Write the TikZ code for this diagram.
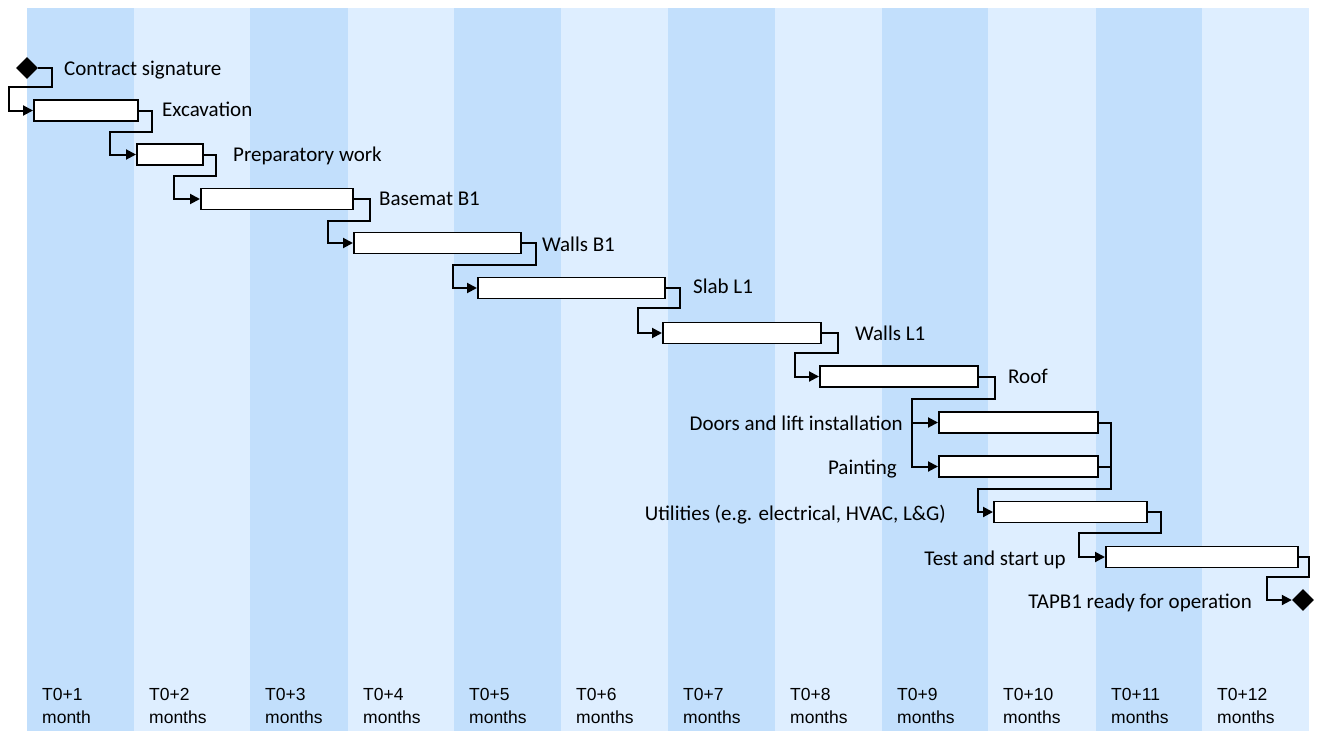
\documentclass[tikz,border=0pt]{standalone}
\usepackage{fontspec}
\setmainfont{Carlito}
\newfontfamily\monthfont{Liberation Sans}
\usetikzlibrary{shapes.geometric,arrows.meta}

\begin{document}
\begin{tikzpicture}[x=1pt,y=-1pt,
  bar/.style={draw=black,line width=1.6pt,fill=white,minimum height=21pt,inner sep=0pt,anchor=west},
  milestone/.style={diamond,fill=black,inner sep=0pt,minimum width=22pt,minimum height=22pt},
  link/.style={line width=2pt,-{Triangle[length=10pt,width=10pt]}},
  joinline/.style={line width=2pt},
  task/.style={inner sep=0pt,text height=13.5pt,text depth=0pt,font=\fontsize{21}{25}\selectfont},
  monthlabel/.style={inner sep=0pt,anchor=base west,font=\monthfont\fontsize{17.5}{21}\selectfont}]
\definecolor{colDark}{RGB}{194,223,252}
\definecolor{colLight}{RGB}{222,238,255}
\useasboundingbox (0,0) rectangle (1320,731);
\foreach \a/\b/\c in {27/134/colDark,134/250/colLight,250/348/colDark,348/454/colLight,454/561/colDark,561/668/colLight,668/775/colDark,775/882/colLight,882/988/colDark,988/1096/colLight,1096/1202/colDark,1202/1309/colLight}
  \fill[\c] (\a,8) rectangle (\b,731);
\foreach \n/\x/\u in {1/42/month,2/149/months,3/265/months,4/363/months,5/469/months,6/576/months,7/683/months,8/790/months,9/897/months,10/1003/months,11/1111/months,12/1217/months} {
  \node[monthlabel] (t\n) at (\x,700) {T0+\n};
  \node[monthlabel] (m\n) at (\x,723) {\u};
}
\node[milestone] (start) at (27,68) {};
\node[bar,minimum width=104pt] (exc) at (33,110.5) {};
\node[bar,minimum width=66pt] (prep) at (136,154.5) {};
\node[bar,minimum width=152pt] (base) at (200,199) {};
\node[bar,minimum width=167pt] (wallsb) at (353,243) {};
\node[bar,minimum width=187pt] (slab) at (477,288) {};
\node[bar,minimum width=158pt] (wallsl) at (662,333) {};
\node[bar,minimum width=158pt] (roof) at (819,376.5) {};
\node[bar,minimum width=159pt] (doors) at (938,422.5) {};
\node[bar,minimum width=159pt] (paint) at (938,466.5) {};
\node[bar,minimum width=153pt] (util) at (993,512) {};
\node[bar,minimum width=192pt] (test) at (1105,557) {};
\node[milestone] (ready) at (1303,600) {};
\node[task,anchor=west] (lstart) at (64,69) {Contract signature};
\node[task,anchor=west] (lexc) at (162,110) {Excavation};
\node[task,anchor=west] (lprep) at (233,155) {Preparatory work};
\node[task,anchor=west] (lbase) at (379,199) {Basemat B1};
\node[task,anchor=west] (lwallsb) at (542,245) {Walls B1};
\node[task,anchor=west] (lslab) at (693,287) {Slab L1};
\node[task,anchor=west] (lwallsl) at (855,334) {Walls L1};
\node[task,anchor=west] (lroof) at (1008,377) {Roof};
\node[task,anchor=east] (ldoors) at (903,424) {Doors and lift installation};
\node[task,anchor=east] (lpaint) at (897,468) {Painting};
\node[task,anchor=east] (lutil) at (946,514) {Utilities (e.g. electrical, HVAC, L\&G)};
\node[task,anchor=east] (ltest) at (1066,559) {Test and start up};
\node[task,anchor=east] (lready) at (1252,602) {TAPB1 ready for operation};
\draw[link] (start.east) -- ++(14,0) |- ++(-43,19) |- (exc.west);
\draw[link] (exc.east) -- ++(13,0) |- ++(-42,21) |- (prep.west);
\draw[link] (prep.east) -- ++(12,0) |- ++(-42,21) |- (base.west);
\draw[link] (base.east) -- ++(16,0) |- ++(-42,22) |- (wallsb.west);
\draw[link] (wallsb.east) -- ++(14,0) |- ++(-83,22) |- (slab.west);
\draw[link] (slab.east) -- ++(14,0) |- ++(-42,20) |- (wallsl.west);
\draw[link] (wallsl.east) -- ++(16,0) |- ++(-43,20) |- (roof.west);
\draw[link] (roof.east) -- ++(16,0) |- ++(-83,22) coordinate (fork) |- (doors.west);
\draw[link] (fork) |- (paint.west);
\draw[joinline] (paint.east) -- ++(12,0) coordinate (merge);
\draw[link] (doors.east) -- ++(12,0) |- ++(-133,66.5) |- (util.west);
\draw[link] (util.east) -- ++(13,0) |- ++(-82,21) |- (test.west);
\draw[link] (test.east) -- ++(10,0) |- ++(-42,20) |- (ready.west);
\end{tikzpicture}
\end{document}
